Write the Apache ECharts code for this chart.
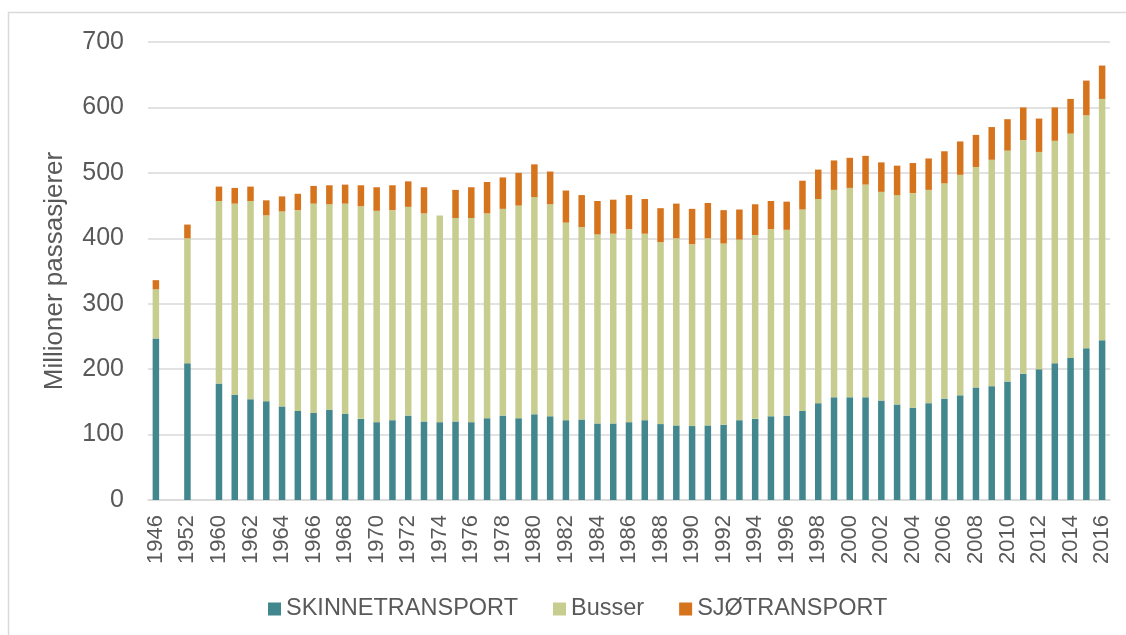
<!DOCTYPE html>
<html>
<head>
<meta charset="utf-8">
<script src="https://cdn.jsdelivr.net/npm/echarts@6/dist/echarts.min.js"></script>
<style>
  html, body { margin: 0; padding: 0; background: #fff; }
  #main { width: 1126px; height: 635px; }
</style>
</head>
<body>
<div id="main"></div>
<script>
// år: 1946, tomrom, 1952, tomrom, så 1960-2016
var years = ['1946', '', '1952', ''];
for (var y = 1960; y <= 2016; y++) years.push(String(y));

// millioner passasjerer per transportform (null = tomt felt)
var skinne = [247, null, 209, null, 178, 161, 154, 151, 143, 136, 133, 138, 132, 124, 119, 122, 129, 120, 119, 120, 119, 125,
  129, 125, 131, 128, 122, 123, 117, 117, 119, 122, 116, 114, 113, 114, 115, 122, 124, 128, 129, 136,
  148, 157, 157, 157, 152, 146, 141, 148, 155, 160, 172, 174, 181, 193, 200, 209, 217, 232, 244];
var busser = [75, null, 191, null, 279, 292, 303, 284, 298, 307, 320, 314, 321, 325, 323, 321, 319, 318, 316, 311, 312, 313,
  316, 325, 332, 324, 302, 294, 289, 290, 295, 285, 278, 286, 278, 286, 277, 276, 281, 286, 284, 308,
  312, 317, 320, 325, 319, 320, 328, 326, 329, 337, 337, 346, 353, 357, 332, 340, 343, 356, 369];
var sjo = [14, null, 21, null, 22, 24, 22, 23, 23, 25, 27, 29, 29, 32, 36, 38, 39, 40, 0, 43, 47, 48,
  48, 50, 50, 50, 49, 49, 51, 52, 52, 53, 52, 53, 54, 54, 51, 46, 47, 43, 43, 44,
  45, 45, 46, 44, 45, 45, 46, 48, 49, 51, 49, 50, 48, 50, 51, 51, 53, 53, 51];

var yTicks = [0, 100, 200, 300, 400, 500, 600, 700];

var textColor = '#595959';
var gridColor = '#d9d9d9';

var myChart = echarts.init(document.getElementById('main'));

function bar(name, data, color) {
    return {
        name: name,
        type: 'bar',
        stack: 'total',
        barWidth: 6.5,
        itemStyle: { color: color },
        data: data
    };
}

var option = {
    animation: false,
    textStyle: { fontFamily: 'Liberation Sans, Arial, sans-serif' },
    graphic: [{
        type: 'polyline',
        shape: { points: [[8.5, 640], [8.5, 12.5], [1130, 12.5]] },
        style: { stroke: gridColor, lineWidth: 1.5, fill: null }
    }],
    grid: { left: 148, right: 16, top: 42, bottom: 135 },
    legend: {
        left: 263,
        top: 592,
        itemWidth: 13,
        itemHeight: 13,
        itemGap: 35,
        icon: 'rect',
        textStyle: { fontSize: 23.5, color: textColor },
        data: ['SKINNETRANSPORT', 'Busser', 'SJØTRANSPORT']
    },
    xAxis: {
        type: 'category',
        data: years,
        axisLine: { lineStyle: { color: gridColor, width: 1.5 } },
        axisTick: { show: false },
        axisLabel: {
            rotate: 90,
            fontSize: 22,
            color: textColor,
            margin: 15,
            interval: 1
        }
    },
    yAxis: {
        type: 'value',
        min: yTicks[0],
        max: yTicks[yTicks.length - 1],
        interval: 100,
        name: 'Millioner passasjerer',
        nameLocation: 'middle',
        nameGap: 80,
        nameTextStyle: { fontSize: 26, color: textColor },
        axisLine: { show: false },
        axisTick: { show: false },
        axisLabel: { fontSize: 25, color: textColor, margin: 24 },
        splitLine: { lineStyle: { color: gridColor, width: 1.5 } }
    },
    series: [
        bar('SKINNETRANSPORT', skinne, '#42878d'),
        bar('Busser', busser, '#c6cd8e'),
        bar('SJØTRANSPORT', sjo, '#d6731d')
    ]
};

myChart.setOption(option);
</script>
</body>
</html>
